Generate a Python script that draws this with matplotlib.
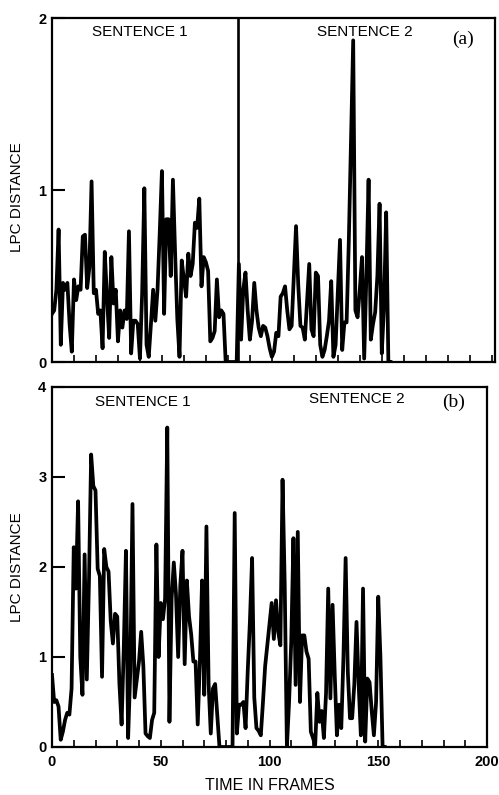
import matplotlib
matplotlib.use("Agg")
import matplotlib.pyplot as plt
from matplotlib.ticker import FixedLocator, NullFormatter

plt.rcParams['font.family'] = ['Liberation Sans', 'DejaVu Sans']

# (a) LPC distance per frame, frames 0..154
dist_a = [0.28, 0.30, 0.42, 0.77, 0.10, 0.46, 0.42, 0.46, 0.22, 0.06,
          0.48, 0.36, 0.44, 0.42, 0.73, 0.74, 0.43, 0.55, 1.05, 0.40,
          0.42, 0.28, 0.30, 0.08, 0.64, 0.38, 0.14, 0.61, 0.34, 0.42,
          0.12, 0.30, 0.20, 0.30, 0.25, 0.76, 0.05, 0.24, 0.24, 0.22,
          0.02, 0.40, 1.01, 0.10, 0.03, 0.22, 0.42, 0.24, 0.42, 0.75,
          1.11, 0.28, 0.83, 0.83, 0.50, 1.06, 0.63, 0.25, 0.03, 0.59,
          0.48, 0.38, 0.63, 0.50, 0.57, 0.81, 0.78, 0.95, 0.44, 0.61,
          0.58, 0.53, 0.12, 0.14, 0.18, 0.48, 0.26, 0.30, 0.28, 0.00,
          0.00, 0.00, 0.00, 0.00, 0.00,
          0.57, 0.13, 0.42, 0.52, 0.30,
          0.13, 0.24, 0.46, 0.30, 0.20, 0.15, 0.21, 0.20, 0.15, 0.08,
          0.03, 0.06, 0.17, 0.15, 0.38, 0.40, 0.44, 0.30, 0.19, 0.21,
          0.50, 0.79, 0.45, 0.21, 0.20, 0.13, 0.35, 0.57, 0.19, 0.15,
          0.52, 0.50, 0.10, 0.03, 0.07, 0.15, 0.24, 0.47, 0.03, 0.10,
          0.40, 0.71, 0.07, 0.23, 0.23, 0.70, 1.30, 1.87, 0.30, 0.26,
          0.42, 0.61, 0.02, 0.50, 1.06, 0.13, 0.22, 0.29, 0.50, 0.92,
          0.05, 0.32, 0.87, 0.00, 0.00]
frames_a = list(range(len(dist_a)))
boundary_a = 84.4

# (b) LPC distance per frame, frames 0..153
dist_b = [0.80, 0.50, 0.52, 0.45, 0.08, 0.17, 0.30, 0.38, 0.36, 0.65,
          2.22, 1.76, 2.73, 1.00, 0.58, 2.14, 0.75, 1.85, 3.25, 2.90,
          2.85, 1.98, 1.90, 0.78, 2.20, 2.00, 1.95, 1.40, 1.15, 1.48,
          1.45, 0.70, 0.25, 1.10, 2.18, 0.10, 0.85, 2.70, 0.55, 0.75,
          0.95, 1.28, 0.90, 0.15, 0.12, 0.10, 0.30, 0.38, 2.25, 1.00,
          1.60, 1.42, 1.65, 3.55, 0.28, 1.65, 2.05, 1.70, 1.00, 1.80,
          2.18, 0.92, 1.85, 1.45, 1.25, 0.95, 0.95, 0.25, 0.95, 1.85,
          0.58, 2.45, 0.70, 0.15, 0.65, 0.70, 0.35, 0.00, 0.00, 0.00,
          0.00, 0.00, 0.00, 0.00, 2.60, 0.15, 0.47, 0.47, 0.50, 0.21,
          0.85, 1.40, 2.10, 0.55, 0.21, 0.18, 0.13, 0.50, 0.90, 1.13,
          1.35, 1.60, 1.20, 1.63, 1.28, 1.13, 2.97, 1.80, 0.00, 0.50,
          1.17, 2.32, 0.69, 2.39, 0.50, 1.24, 1.24, 1.06, 0.98, 0.17,
          0.10, 0.02, 0.60, 0.28, 0.40, 0.10, 0.60, 1.76, 0.54, 1.58,
          0.80, 0.13, 0.47, 0.21, 1.00, 2.10, 0.84, 0.32, 0.32, 0.70,
          1.39, 0.69, 0.13, 1.76, 0.06, 0.76, 0.72, 0.40, 0.13, 0.50,
          1.67, 1.00, 0.00, 0.00]
frames_b = list(range(len(dist_b)))

x_ticks = list(range(0, 201, 10))
x_labels = ["0", "50", "100", "150", "200"]


def style_axes(ax, ymax):
    for sp in ax.spines.values():
        sp.set_linewidth(1.6)
    ax.set_yticks(range(0, ymax + 1))
    ax.tick_params(axis='y', direction='in', length=9, width=1.5,
                   labelsize=10.5, pad=4)
    ax.xaxis.set_major_locator(FixedLocator(x_ticks))
    ax.tick_params(axis='x', direction='in', length=5, width=1.2,
                   labelsize=10.5, pad=6)
    for lab in ax.get_yticklabels():
        lab.set_fontweight('bold')


fig = plt.figure(figsize=(4.99, 7.95), dpi=100)

ax1 = fig.add_axes([52 / 499, 1 - 362 / 795, 443 / 499, 344 / 795])
ax1.plot(frames_a, dist_a, color='black', lw=2.7)
ax1.axvline(boundary_a, color='black', lw=1.9)
ax1.set_xlim(0, 201.5)
ax1.set_ylim(0, 2)
style_axes(ax1, 2)
ax1.xaxis.set_major_formatter(NullFormatter())
ax1.text(0.199, 0.959, "SENTENCE 1", transform=ax1.transAxes,
         ha='center', va='center', fontsize=11)
ax1.text(0.707, 0.959, "SENTENCE 2", transform=ax1.transAxes,
         ha='center', va='center', fontsize=11)
ax1.text(0.928, 0.938, "(a)", transform=ax1.transAxes, ha='center',
         va='center', fontsize=14, family=['Liberation Serif', 'DejaVu Serif'])

ax2 = fig.add_axes([52 / 499, 1 - 747 / 795, 435 / 499, 360 / 795])
ax2.plot(frames_b, dist_b, color='black', lw=2.7)
ax2.set_xlim(0, 200)
ax2.set_ylim(0, 4)
style_axes(ax2, 4)
ax2.set_xticklabels([x_labels[t // 50] if t % 50 == 0 else "" for t in x_ticks])
for lab in ax2.get_xticklabels():
    lab.set_fontweight('bold')
ax2.text(0.209, 0.958, "SENTENCE 1", transform=ax2.transAxes,
         ha='center', va='center', fontsize=11)
ax2.text(0.701, 0.967, "SENTENCE 2", transform=ax2.transAxes,
         ha='center', va='center', fontsize=11)
ax2.text(0.922, 0.956, "(b)", transform=ax2.transAxes, ha='center',
         va='center', fontsize=14, family=['Liberation Serif', 'DejaVu Serif'])

fig.text(17 / 499, 1 - 197 / 795, "LPC DISTANCE", rotation=90,
         ha='center', va='center', fontsize=11)
fig.text(17 / 499, 1 - 567 / 795, "LPC DISTANCE", rotation=90,
         ha='center', va='center', fontsize=11)
fig.text(270 / 499, 1 - 785 / 795, "TIME IN FRAMES", ha='center',
         va='center', fontsize=11.5)

fig.savefig("out.png", dpi=100)
